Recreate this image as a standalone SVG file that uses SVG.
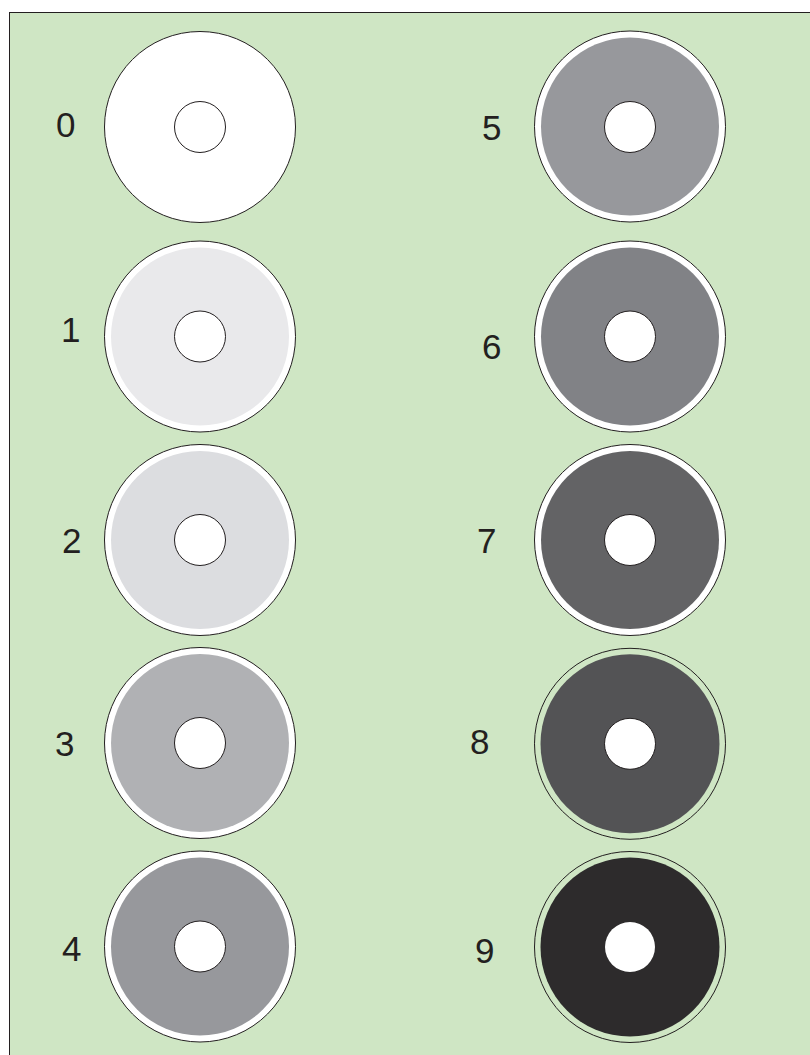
<svg xmlns="http://www.w3.org/2000/svg" width="810" height="1055" viewBox="0 0 810 1055">
<style>
.rim{fill:#ffffff;stroke:#231f20;stroke-width:1}
.rimo{fill:none;stroke:#231f20;stroke-width:1}
.hole{fill:#ffffff;stroke:#231f20;stroke-width:1}
.holen{fill:#ffffff;stroke:none}
.lbl{font-family:"Liberation Sans",Arial,sans-serif;font-size:35px;fill:#231f20}
</style>
<rect x="9.5" y="12.5" width="820" height="1060" fill="#cfe6c4" stroke="#231f20" stroke-width="1"/>
<g id="disk0">
<circle class="rim" cx="200" cy="127" r="95.5"/>
<circle class="hole" cx="200" cy="127" r="25.5"/>
<text class="lbl" x="56" y="137">0</text>
</g>
<g id="disk1">
<circle class="rim" cx="200" cy="336.5" r="95.5"/>
<circle cx="200" cy="336.5" r="89" fill="#e9e9eb"/>
<circle class="hole" cx="200" cy="336.5" r="25.5"/>
<text class="lbl" x="61" y="342">1</text>
</g>
<g id="disk2">
<circle class="rim" cx="200" cy="540" r="95.5"/>
<circle cx="200" cy="540" r="89" fill="#dcdde0"/>
<circle class="hole" cx="200" cy="540" r="25.5"/>
<text class="lbl" x="62" y="553">2</text>
</g>
<g id="disk3">
<circle class="rim" cx="200" cy="743" r="95.5"/>
<circle cx="200" cy="743" r="89" fill="#b0b1b4"/>
<circle class="hole" cx="200" cy="743" r="25.5"/>
<text class="lbl" x="55" y="756">3</text>
</g>
<g id="disk4">
<circle class="rim" cx="200" cy="946.5" r="95.5"/>
<circle cx="200" cy="946.5" r="89" fill="#97989c"/>
<circle class="hole" cx="200" cy="946.5" r="25.5"/>
<text class="lbl" x="62" y="961">4</text>
</g>
<g id="disk5">
<circle class="rim" cx="630" cy="126.5" r="95.5"/>
<circle cx="630" cy="126.5" r="89" fill="#97989c"/>
<circle class="hole" cx="630" cy="127" r="25.5"/>
<text class="lbl" x="482" y="140">5</text>
</g>
<g id="disk6">
<circle class="rim" cx="630" cy="336.5" r="95.5"/>
<circle cx="630" cy="336.5" r="89" fill="#818286"/>
<circle class="hole" cx="630" cy="336.5" r="25.5"/>
<text class="lbl" x="482" y="359">6</text>
</g>
<g id="disk7">
<circle class="rim" cx="630" cy="540" r="95.5"/>
<circle cx="630" cy="540" r="89" fill="#636365"/>
<circle class="hole" cx="630" cy="540" r="25.5"/>
<text class="lbl" x="477" y="553">7</text>
</g>
<g id="disk8">
<circle class="rimo" cx="630" cy="743.8" r="95.5"/>
<circle cx="630" cy="743.8" r="89.5" fill="#535355"/>
<circle class="hole" cx="630" cy="743.8" r="25.5"/>
<text class="lbl" x="470" y="754">8</text>
</g>
<g id="disk9">
<circle class="rimo" cx="630" cy="947" r="95.5"/>
<circle cx="630" cy="947" r="89.5" fill="#2d2b2c"/>
<circle class="holen" cx="630" cy="947" r="25"/>
<text class="lbl" x="475" y="963">9</text>
</g>
</svg>
